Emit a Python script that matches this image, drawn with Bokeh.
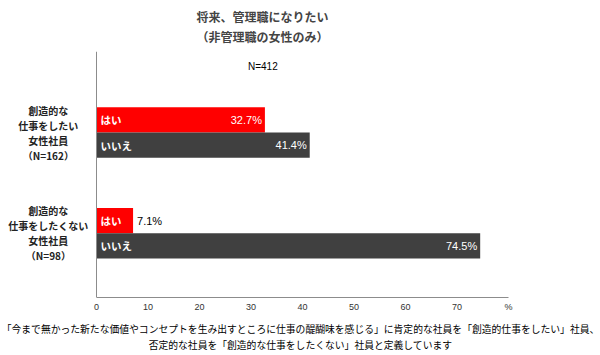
from bokeh.plotting import figure
from bokeh.models import Range1d, Span, FixedTicker, ColumnDataSource, Title
from bokeh.core.properties import value
from bokeh.embed import file_html
from bokeh.resources import INLINE

# ---- data ----
categories = ["創造的な\n仕事をしたい\n女性社員\n（N=162）",
              "創造的な\n仕事をしたくない\n女性社員\n（N=98）"]
series = ["はい", "いいえ"]
yes_vals = [32.7, 7.1]
no_vals = [41.4, 74.5]
x_ticks = [0, 10, 20, 30, 40, 50, 60, 70, 80]
x_tick_labels = ["0", "10", "20", "30", "40", "50", "60", "70", "%"]
title_lines = ["将来、管理職になりたい", "（非管理職の女性のみ）"]
n_text = ["N=412"]
note_lines = ["「今まで無かった新たな価値やコンセプトを生み出すところに仕事の醍醐味を感じる」に肯定的な社員を「創造的仕事をしたい」社員、",
              "否定的な社員を「創造的な仕事をしたくない」社員と定義しています"]
colors = ["#ff0000", "#404040"]

JP = "Noto Sans CJK JP"
LAT = "Liberation Sans"

p = figure(width=600, height=355, output_backend="svg", toolbar_location=None,
           x_range=Range1d(-18.64, 97.86), y_range=Range1d(2.637, 0.196),
           min_border_left=0, min_border_right=0, min_border_top=48, min_border_bottom=58)
p.outline_line_color = None
p.grid.visible = False
p.yaxis.visible = False
p.background_fill_color = "white"
p.border_fill_color = "white"

p.title.text = "\n".join(title_lines)
p.title.align = "left"
p.title.offset = 196
p.title.text_font = JP
p.title.text_font_size = "12px"
p.title.text_font_style = "bold"
p.title.text_line_height = 1.2
p.title.standoff = 12

xa = p.xaxis[0]
xa.bounds = (0, 80)
xa.ticker = FixedTicker(ticks=x_ticks)
xa.major_label_overrides = {t: l for t, l in zip(x_ticks, x_tick_labels)}
xa.major_tick_in = 0
xa.major_tick_out = 0
xa.minor_tick_in = 0
xa.minor_tick_out = 0
xa.axis_line_color = "#8c8c8c"
xa.axis_line_width = 1
xa.major_label_text_font = LAT
xa.major_label_text_font_size = "9px"
xa.major_label_text_color = "#333333"
xa.major_label_standoff = 4

# small gap between the axis and the footnote
p.add_layout(Title(text=" ", text_font=LAT, text_font_size="3px", standoff=0), "below")
for t in note_lines:
    p.add_layout(Title(text=t, align="center", text_font=JP, text_font_size="9.8px",
                       text_font_style="normal", text_color="black",
                       text_line_height=0.66, standoff=0), "below")

p.add_layout(Span(location=0, dimension="height", line_color="#8c8c8c", line_width=1))

ypos = [1, 2]
bar_h = 0.25
for si, (vals, off) in enumerate([(yes_vals, -0.125), (no_vals, 0.125)]):
    ys = [y + off for y in ypos]
    src = ColumnDataSource(dict(y=ys, right=vals, name=[series[si]] * len(vals)))
    p.hbar(y="y", left=0, right="right", height=bar_h, source=src,
           fill_color=colors[si], line_color=None)
    p.text(x=0, y="y", text="name", source=src, x_offset=4,
           text_font=value(JP), text_font_size="10.5px", text_font_style="bold",
           text_color="white", text_align="left", text_baseline="middle")
    lab = [f"{v:.1f}%" for v in vals]
    in_idx = [i for i, v in enumerate(vals) if v >= 15]
    out_idx = [i for i, v in enumerate(vals) if v < 15]
    if in_idx:
        s_in = ColumnDataSource(dict(x=[vals[i] for i in in_idx], y=[ys[i] for i in in_idx],
                                     t=[lab[i] for i in in_idx]))
        p.text(x="x", y="y", text="t", source=s_in, x_offset=-3,
               text_font=value(LAT), text_font_size="11px", text_color="white",
               text_align="right", text_baseline="middle")
    if out_idx:
        s_out = ColumnDataSource(dict(x=[vals[i] for i in out_idx], y=[ys[i] for i in out_idx],
                                      t=[lab[i] for i in out_idx]))
        p.text(x="x", y="y", text="t", source=s_out, x_offset=4,
               text_font=value(LAT), text_font_size="11px", text_color="black",
               text_align="left", text_baseline="middle")

# category labels, left of the value axis
cat_src = ColumnDataSource(dict(x=[-9.35] * len(categories), y=ypos, t=categories))
p.text(x="x", y="y", text="t", source=cat_src,
       text_font=value(JP), text_font_size="10px", text_font_style="bold",
       text_color="#222222", text_align="center", text_baseline="middle",
       text_line_height=1.0)

# sample size note
p.text(x=[32.3], y=[0.34], text=n_text, text_font=value(LAT), text_font_size="10px",
       text_color="black", text_align="center", text_baseline="middle")

open("out.html", "w").write(file_html(p, INLINE))
